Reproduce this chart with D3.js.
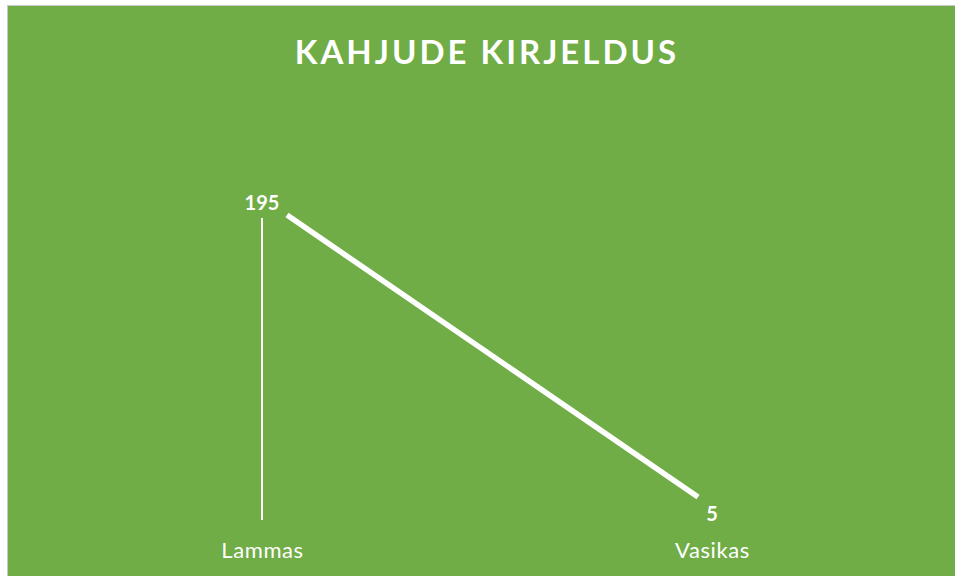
<!DOCTYPE html>
<html>
<head>
<meta charset="utf-8">
<script src="https://cdn.jsdelivr.net/npm/d3@7"></script>
<style>
    html, body { margin: 0; padding: 0; background: #ffffff; overflow: hidden; }
    svg { display: block; font-family: Lato, "Open Sans", sans-serif; }
</style>
</head>
<body>
<div id="chart"></div>
<script>
// dati del grafico
const categories = ['Lammas', 'Vasikas'];
const values = [195, 5];
const title = 'KAHJUDE KIRJELDUS';

const W = 955, H = 576;
const green = '#70ad47';

const svg = d3.select('#chart')
    .append('svg')
    .attr('width', W)
    .attr('height', H);

// bordo grigio e area verde
svg.append('rect')
    .attr('x', 7.5).attr('y', 5.5)
    .attr('width', 970).attr('height', 600)
    .attr('fill', green)
    .attr('stroke', '#c8c8c8')
    .attr('stroke-width', 1);

// titolo
svg.append('text')
    .attr('x', 487)
    .attr('y', 64)
    .attr('text-anchor', 'middle')
    .attr('fill', '#ffffff')
    .style('font-size', '33px')
    .style('font-weight', 700)
    .style('letter-spacing', '3px')
    .text(title);

const data = categories.map((c, i) => ({ cat: c, value: values[i] }));

// scala x per le etichette (fronte) e per la linea (profondita')
const x = d3.scalePoint().domain(categories).range([262, 712]);
const xLine = d3.scalePoint().domain(categories).range([287, 698]);
const y = d3.scaleLinear().domain([0, 200]).range([504.4, 207.6]);
const base = 520;

// asse categorie (solo etichette)
const xAxis = d3.axisBottom(x).tickSize(0).tickPadding(0);
svg.append('g')
    .attr('transform', `translate(0,${base + 22})`)
    .call(xAxis)
    .call(g => g.select('.domain').remove())
    .call(g => g.selectAll('text')
        .attr('fill', '#ffffff')
        .attr('dy', '0.71em')
        .style('font-family', 'Lato, "Open Sans", sans-serif')
        .style('font-size', '22px')
        .style('letter-spacing', '0.6px'));

// linee di proiezione (visibili solo dove non coperte dall'etichetta)
svg.selectAll('.drop')
    .data(data.filter(d => base - y(d.value) > 30))
    .join('line')
    .attr('class', 'drop')
    .attr('x1', d => x(d.cat)).attr('x2', d => x(d.cat))
    .attr('y1', d => y(d.value) + 3)
    .attr('y2', base)
    .attr('stroke', '#ffffff')
    .attr('stroke-width', 2);

// la linea principale
const line = d3.line()
    .x(d => xLine(d.cat))
    .y(d => y(d.value));

svg.append('path')
    .datum(data)
    .attr('d', line)
    .attr('fill', 'none')
    .attr('stroke', '#ffffff')
    .attr('stroke-width', 5.5)
    .attr('stroke-linecap', 'butt');

// etichette dei valori
svg.selectAll('.lbl')
    .data(data)
    .join('text')
    .attr('class', 'lbl')
    .attr('x', d => x(d.cat))
    .attr('y', (d, i) => i === 0 ? y(d.value) - 5 : base + 1)
    .attr('text-anchor', 'middle')
    .attr('fill', '#ffffff')
    .style('font-size', '20px')
    .style('font-weight', 700)
    .text(d => d.value);
</script>
</body>
</html>
